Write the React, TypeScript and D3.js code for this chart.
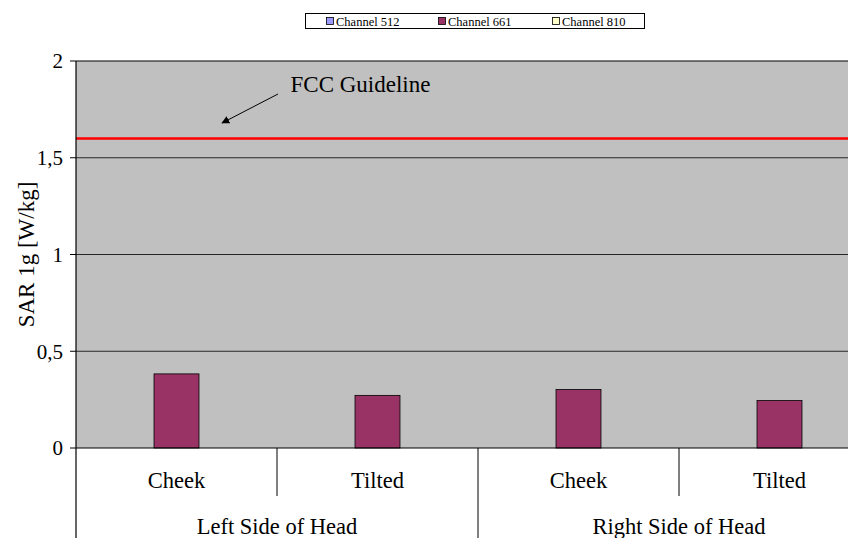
import React from "react";
import * as d3 from "d3";

const categories = ["Cheek", "Tilted", "Cheek", "Tilted"];
const groups = ["Left Side of Head", "Right Side of Head"];
const seriesNames = ["Channel 512", "Channel 661", "Channel 810"];
const seriesColors = ["#9999FF", "#993366", "#FFFFCC"];
const channel512: (number | null)[] = [null, null, null, null];
const channel661: (number | null)[] = [0.383, 0.272, 0.302, 0.245];
const channel810: (number | null)[] = [null, null, null, null];
const seriesValues = [channel512, channel661, channel810];
const yTicks = [0, 0.5, 1, 1.5, 2];
const yTickLabels = ["0", "0,5", "1", "1,5", "2"];
const fccLimit = 1.6;

const W = 848;
const H = 538;
const left = 76;
const right = 880;
const top = 61;
const bottom = 448;
const font = "'Liberation Serif', 'Times New Roman', serif";

export default function App() {
  const idx = categories.map((_, i) => i);
  const x = d3.scaleBand<number>().domain(idx).range([left, right]).padding(0);
  const xs = d3
    .scaleBand<string>()
    .domain(seriesNames)
    .range([0, x.bandwidth()])
    .paddingInner(0)
    .paddingOuter(0.735);
  const y = d3.scaleLinear().domain([0, 2]).range([bottom, top]);
  const groupScale = d3.scaleBand<number>().domain([0, 1]).range([left, right]);

  const legendItems = [
    { mx: 326, tx: 336 },
    { mx: 438, tx: 448 },
    { mx: 552, tx: 562 },
  ];

  return (
    <svg
      width={W}
      height={H}
      style={{ position: "absolute", left: 0, top: 0, background: "#fff" }}
    >
      {/* plot area */}
      <rect x={left} y={top} width={right - left} height={bottom - top} fill="#C0C0C0" />
      <line x1={left} x2={right} y1={top} y2={top} stroke="#000" strokeWidth={1.2} />
      {/* grid lines */}
      {yTicks.filter((t) => t > 0 && t < 2).map((t) => (
        <line key={t} x1={left} x2={right} y1={y(t)} y2={y(t)} stroke="#000" strokeWidth={0.8} />
      ))}
      {/* bars */}
      {seriesValues.map((vals, si) =>
        vals.map((v, ci) =>
          v == null ? null : (
            <rect
              key={`${si}-${ci}`}
              x={(x(ci) as number) + (xs(seriesNames[si]) as number)}
              y={y(v)}
              width={xs.bandwidth()}
              height={y(0) - y(v)}
              fill={seriesColors[si]}
              stroke="#000"
              strokeWidth={0.8}
            />
          )
        )
      )}
      {/* FCC line */}
      <line x1={left} x2={right} y1={y(fccLimit)} y2={y(fccLimit)} stroke="#FF0000" strokeWidth={2.5} />
      {/* axes */}
      <line x1={left} x2={left} y1={top} y2={H} stroke="#000" strokeWidth={1.2} />
      <line x1={left} x2={right} y1={bottom} y2={bottom} stroke="#000" strokeWidth={1.2} />
      {yTicks.map((t, i) => (
        <g key={t}>
          <line x1={left - 6} x2={left} y1={y(t)} y2={y(t)} stroke="#000" strokeWidth={1} />
          <text
            x={left - 13}
            y={y(t)}
            dy="0.35em"
            textAnchor="end"
            fontFamily={font}
            fontSize={21}
            fill="#000"
          >
            {yTickLabels[i]}
          </text>
        </g>
      ))}
      <text
        transform={`translate(34,${(top + bottom) / 2}) rotate(-90)`}
        textAnchor="middle"
        fontFamily={font}
        fontSize={23}
        fill="#000"
      >
        SAR 1g [W/kg]
      </text>
      {/* category separators */}
      {idx.map((i) =>
        i % 2 === 1 ? (
          <line
            key={`sep${i}`}
            x1={x(i) as number}
            x2={x(i) as number}
            y1={bottom}
            y2={496}
            stroke="#000"
            strokeWidth={1}
          />
        ) : null
      )}
      <line x1={groupScale(1) as number} x2={groupScale(1) as number} y1={bottom} y2={H} stroke="#000" strokeWidth={1} />
      {/* category labels */}
      {categories.map((c, i) => (
        <text
          key={`c${i}`}
          x={(x(i) as number) + x.bandwidth() / 2}
          y={488}
          textAnchor="middle"
          fontFamily={font}
          fontSize={22.5}
          fill="#000"
        >
          {c}
        </text>
      ))}
      {groups.map((g, i) => (
        <text
          key={g}
          x={(groupScale(i) as number) + groupScale.bandwidth() / 2}
          y={534}
          textAnchor="middle"
          fontFamily={font}
          fontSize={22.5}
          fill="#000"
        >
          {g}
        </text>
      ))}
      {/* FCC annotation */}
      <text x={290.5} y={92} fontFamily={font} fontSize={23} fill="#000">
        FCC Guideline
      </text>
      <defs>
        <marker id="arr" viewBox="0 0 10 10" refX="9" refY="5" markerWidth="8" markerHeight="8" orient="auto" markerUnits="userSpaceOnUse">
          <path d="M0,0 L10,5 L0,10 z" fill="#000" />
        </marker>
      </defs>
      <line x1={278} y1={94} x2={222} y2={123} stroke="#000" strokeWidth={1} markerEnd="url(#arr)" />
      {/* legend */}
      <rect x={305.5} y={13.5} width={339} height={15} fill="#fff" stroke="#000" strokeWidth={1} />
      {seriesNames.map((s, i) => (
        <g key={s}>
          <rect x={legendItems[i].mx + 0.5} y={17.5} width={7} height={7} fill={seriesColors[i]} stroke="#000" strokeWidth={0.8} />
          <text x={legendItems[i].tx} y={25.5} fontFamily={font} fontSize={12.5} fill="#000">
            {s}
          </text>
        </g>
      ))}
    </svg>
  );
}
